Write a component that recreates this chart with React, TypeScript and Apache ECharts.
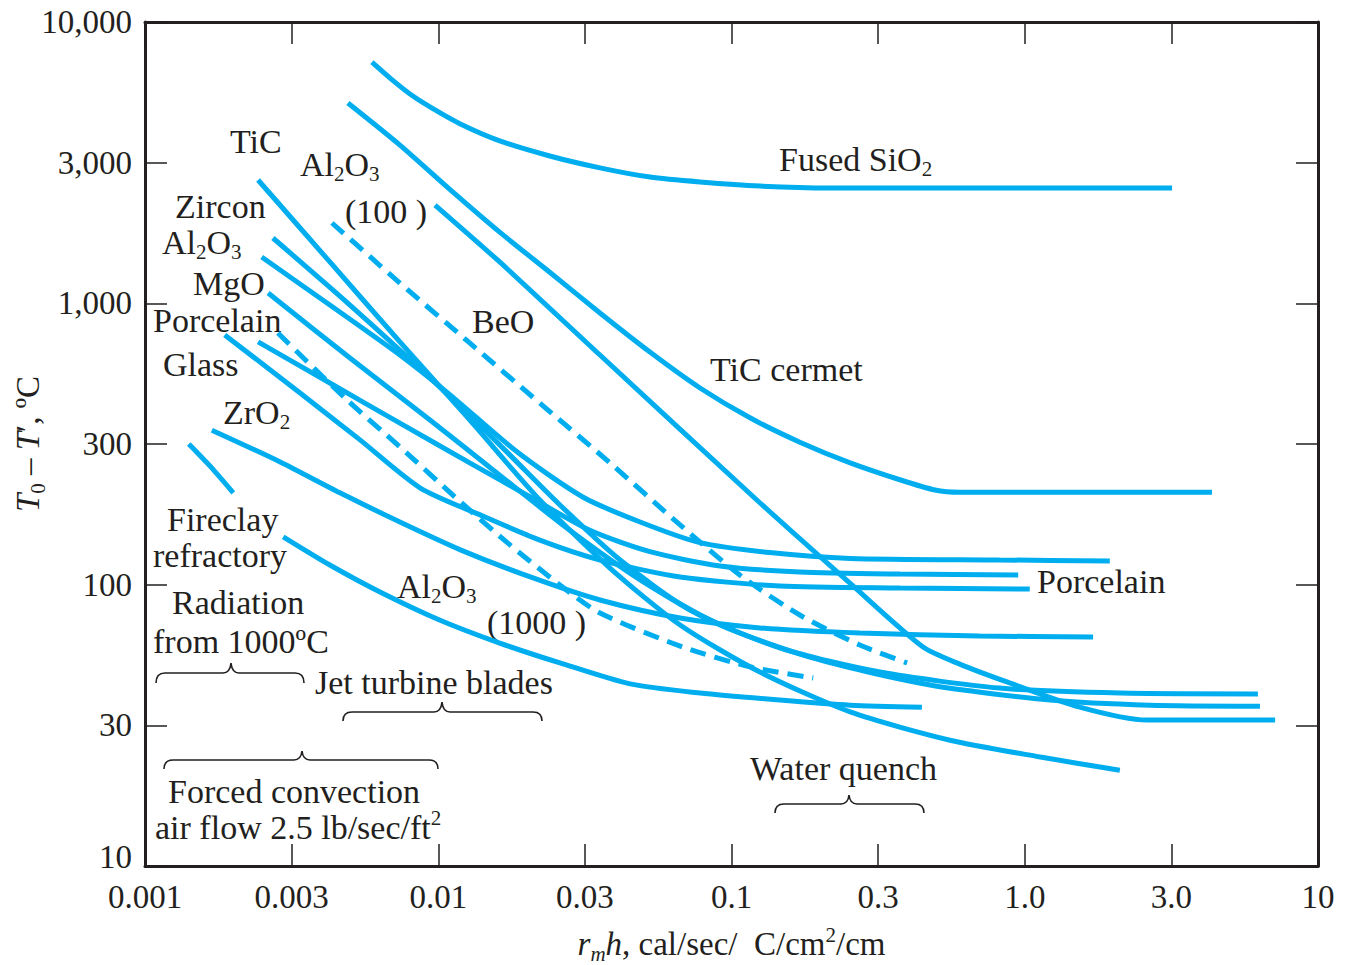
import React, { useEffect, useRef } from 'react';
import * as echarts from 'echarts';

// ---- tick labels (axes are in log10 space, ticks every half decade) ----
const xTickLabels = ['0.001', '0.003', '0.01', '0.03', '0.1', '0.3', '1.0', '3.0', '10'];
const yTickLabels = ['10', '30', '100', '300', '1,000', '3,000', '10,000'];

// ---- curves: [r_m h, T0 - T'] ----
const fusedSiO2 = [[0.00594, 7200], [0.00685, 6320], [0.00801, 5550], [0.00937, 4990], [0.0119, 4340], [0.0162, 3780], [0.024, 3340], [0.0356, 3030], [0.0527, 2810], [0.0781, 2700], [0.125, 2610], [0.217, 2570], [3.18, 2570]];
const ticCermet = [[0.00492, 5150], [0.0074, 3650], [0.011, 2530], [0.0162, 1790], [0.024, 1290], [0.0356, 924], [0.0527, 671], [0.0781, 500], [0.116, 391], [0.171, 321], [0.254, 271], [0.375, 236], [0.494, 217], [0.6, 213], [4.35, 213]];
const al2o3_100 = [[0.00975, 2236], [0.0162, 1403], [0.0356, 655], [0.122, 200], [0.254, 101], [0.45, 60], [0.6, 52.2], [0.87, 45.1], [1.54, 36.7], [2.61, 33], [7.14, 33]];
const beo = [[0.00434, 1930], [0.0074, 1181], [0.0128, 723], [0.0222, 442], [0.0385, 271], [0.0668, 163], [0.107, 108], [0.171, 78], [0.274, 61], [0.397, 52.7]];
const al2o3_1000 = [[0.00284, 784], [0.00489, 453], [0.0074, 309], [0.0119, 197], [0.0172, 141], [0.026, 99.7], [0.0356, 79.3], [0.0683, 60], [0.116, 51], [0.19, 46.6]];
const tic = [[0.00243, 2744], [0.00427, 1403], [0.0074, 729], [0.0128, 385], [0.0222, 200], [0.0385, 114.6], [0.0668, 71.9], [0.125, 48.9], [0.254, 35.3], [0.556, 28], [1.13, 24.4], [2.11, 21.9]];
const zircon = [[0.00273, 1707], [0.005, 986], [0.00937, 543], [0.0162, 314], [0.026, 192], [0.0417, 122.4], [0.0722, 81.3], [0.146, 59.6], [0.321, 48.9], [0.82, 42.9], [2.11, 41.2], [6.24, 40.9]];
const mgo = [[0.00263, 1088], [0.005, 639], [0.00937, 385], [0.0162, 245], [0.0281, 156], [0.0488, 104], [0.0914, 71.9], [0.2, 54], [0.475, 44], [1.22, 38.9], [2.67, 37.3], [6.34, 37]];
const al2o3 = [[0.0025, 1461], [0.00427, 986], [0.0074, 655], [0.011, 472], [0.0186, 296], [0.0311, 205], [0.0488, 167], [0.0781, 141], [0.135, 130], [0.254, 124], [0.82, 122.4], [1.95, 121.4]];
const glass = [[0.00243, 729], [0.00427, 521], [0.0074, 375], [0.0128, 271], [0.0206, 205], [0.0329, 156], [0.0527, 131], [0.0914, 116.5], [0.171, 110.9], [0.375, 109.1], [0.95, 108.2]];
const porcelain = [[0.00187, 772], [0.00338, 480], [0.00541, 327], [0.00866, 221], [0.0139, 177], [0.0222, 144], [0.0356, 122.4], [0.0668, 106.5], [0.146, 98.9], [0.375, 97.3], [1.04, 96.5]];
const zro2 = [[0.00169, 354], [0.00289, 273], [0.00462, 212], [0.0074, 167], [0.0119, 133], [0.0206, 106.5], [0.0356, 88.2], [0.0668, 76.1], [0.125, 70.2], [0.274, 67.3], [0.7, 65.7], [1.71, 65.2]];
const fireclayShort = [[0.00141, 316], [0.0015, 296], [0.0017, 258], [0.002, 212]];
const fireclay = [[0.00296, 148], [0.00427, 117.5], [0.00633, 94.2], [0.0101, 74.9], [0.0162, 62], [0.026, 52.7], [0.0451, 44.4], [0.0781, 41.2], [0.146, 38.9], [0.254, 37.3], [0.446, 36.7]];

const solidCurves = [fusedSiO2, ticCermet, al2o3_100, tic, zircon, mgo, al2o3, glass, porcelain, zro2, fireclayShort, fireclay];
const dashedCurves = [beo, al2o3_1000];

const INK = '#231f20';
const CYAN = '#00AEEF';
const FONT = '"Liberation Serif", "Times New Roman", serif';

// rich styles for axis names / tick labels (label model)
const RICH = {
  p: { fontFamily: FONT, fontSize: 21, lineHeight: 21, verticalAlign: 'top', color: INK },
  i: { fontFamily: FONT, fontSize: 33, lineHeight: 40, fontStyle: 'italic', color: INK },
  is: { fontFamily: FONT, fontSize: 21, lineHeight: 21, verticalAlign: 'bottom', fontStyle: 'italic', color: INK },
  ys: { fontFamily: FONT, fontSize: 21, lineHeight: 21, verticalAlign: 'bottom', color: INK },
  lo: { fontFamily: FONT, fontSize: 33, color: INK, padding: [0, 0, 18, 0] },
};

// rich styles for graphic annotation texts: subscript / superscript shifted by padding
const GRICH = {
  s: { fontFamily: FONT, fontSize: 21, fill: INK, lineHeight: 12, padding: [20, 0, 0, 0] },
  p: { fontFamily: FONT, fontSize: 21, fill: INK, lineHeight: 12, padding: [0, 0, 18, 0] },
};

// annotation texts (left edge x, vertical middle y, in pixels)
const annotations = [
  { t: 'TiC', x: 230, y: 141 },
  { t: 'Al{s|2}O{s|3}', x: 300, y: 164 },
  { t: '(100 )', x: 345, y: 211 },
  { t: 'Zircon', x: 175, y: 206 },
  { t: 'Al{s|2}O{s|3}', x: 162, y: 242 },
  { t: 'MgO', x: 193, y: 283 },
  { t: 'Porcelain', x: 153, y: 320 },
  { t: 'Glass', x: 163, y: 364 },
  { t: 'ZrO{s|2}', x: 223, y: 412 },
  { t: 'BeO', x: 472, y: 321 },
  { t: 'TiC cermet', x: 710, y: 369 },
  { t: 'Fused SiO{s|2}', x: 779, y: 159 },
  { t: 'Porcelain', x: 1037, y: 581 },
  { t: 'Fireclay', x: 167, y: 519 },
  { t: 'refractory', x: 153, y: 555 },
  { t: 'Radiation', x: 172, y: 602 },
  { t: 'from 1000ºC', x: 153, y: 641 },
  { t: 'Al{s|2}O{s|3}', x: 397, y: 586 },
  { t: '(1000 )', x: 487, y: 622 },
  { t: 'Jet turbine blades', x: 315, y: 682 },
  { t: 'Water quench', x: 750, y: 768 },
  { t: 'Forced convection', x: 168, y: 791 },
  { t: 'air flow 2.5 lb/sec/ft{p|2}', x: 155, y: 827 },
];

// curly braces: [x0, x1, xm, peakY, horizY, endY]
const braces = [
  [156, 304, 231, 663, 673, 683],
  [343, 542, 442, 702, 712, 721],
  [164, 438, 302, 751, 760, 769],
  [775, 924, 849, 795, 804, 813],
];

function braceD(b: number[]) {
  const [x0, x1, xm, yp, yh, ye] = b;
  return `M${x0} ${ye} Q${x0} ${yh} ${x0 + 9} ${yh} L${xm - 8} ${yh} Q${xm - 1} ${yh} ${xm} ${yp} Q${xm + 1} ${yh} ${xm + 8} ${yh} L${x1 - 9} ${yh} Q${x1} ${yh} ${x1} ${ye}`;
}

const toLog = (pts: number[][]) => pts.map(([x, y]) => [Math.log10(x), Math.log10(y)]);

function lineSeries(pts: number[][], dashed: boolean) {
  return {
    type: 'line',
    data: toLog(pts),
    showSymbol: false,
    symbol: 'none',
    smooth: 0.25,
    silent: true,
    lineStyle: { color: CYAN, width: 5, type: dashed ? [16, 9] : 'solid', cap: 'butt' },
  };
}

const axisLineStyle = { show: true, onZero: false, lineStyle: { color: INK, width: 3 } };
const tickStyle = { show: true, inside: true, length: 22, lineStyle: { color: INK, width: 1.5 } };

export default function App() {
  const ref = useRef<HTMLDivElement>(null);
  useEffect(() => {
    if (!ref.current) return;
    braces.forEach((b, i) => {
      echarts.graphic.registerShape('brace' + i, echarts.graphic.extendPath(braceD(b), {}) as any);
    });
    const chart = echarts.init(ref.current, null, { renderer: 'svg' });
    const option: any = {
      animation: false,
      backgroundColor: '#fff',
      grid: { left: 145, right: 36, top: 22, bottom: 99, containLabel: false, outerBoundsMode: 'none' },
      xAxis: [
        {
          type: 'value', position: 'bottom', min: -3, max: 1, interval: 0.5,
          axisLine: axisLineStyle, axisTick: tickStyle, splitLine: { show: false },
          axisLabel: {
            margin: 14, fontFamily: FONT, fontSize: 33, color: INK,
            formatter: (v: number) => xTickLabels[Math.round((v + 3) * 2)] ?? '',
          },
          name: '{i|r}{is|m}{i|h}, cal/sec/  C/cm{p|2}/cm',
          nameLocation: 'middle', nameGap: 58, nameMoveOverlap: false,
          nameTextStyle: { fontFamily: FONT, fontSize: 33, color: INK, lineHeight: 40, rich: RICH },
        },
        {
          type: 'value', position: 'top', min: -3, max: 1, interval: 0.5,
          axisLine: axisLineStyle, axisTick: tickStyle, splitLine: { show: false },
          axisLabel: { show: false },
        },
      ],
      yAxis: [
        {
          type: 'value', position: 'left', min: 1, max: 4, interval: 0.5,
          axisLine: axisLineStyle, axisTick: tickStyle, splitLine: { show: false },
          axisLabel: {
            margin: 13, fontFamily: FONT, fontSize: 33, color: INK,
            formatter: (v: number) => {
              const i = Math.round((v - 1) * 2);
              const s = yTickLabels[i] ?? '';
              return i === 0 ? '{lo|' + s + '}' : s;
            },
            rich: RICH,
          },
          name: '{i|T}{ys|0} – {i|T}′, ºC',
          nameLocation: 'middle', nameGap: 97, nameMoveOverlap: false,
          nameTextStyle: { fontFamily: FONT, fontSize: 33, color: INK, lineHeight: 40, rich: RICH },
        },
        {
          type: 'value', position: 'right', min: 1, max: 4, interval: 0.5,
          axisLine: axisLineStyle, axisTick: tickStyle, splitLine: { show: false },
          axisLabel: { show: false },
        },
      ],
      series: [
        ...solidCurves.map((c) => lineSeries(c, false)),
        ...dashedCurves.map((c) => lineSeries(c, true)),
      ],
      graphic: [
        ...annotations.map((a) => ({
          type: 'text', x: a.x, y: a.y, silent: true,
          style: {
            legacy: false,
            text: a.t, fontFamily: FONT, fontSize: 34, fill: INK,
            lineHeight: 34, align: 'left', verticalAlign: 'middle',
            rich: GRICH,
          },
        })),
        ...braces.map((_, i) => ({
          type: 'brace' + i, x: 0, y: 0, silent: true,
          style: { fill: 'none', stroke: INK, lineWidth: 1.6 },
        })),
      ],
    };
    chart.setOption(option);
    return () => chart.dispose();
  }, []);
  return (
    <div
      ref={ref}
      style={{ position: 'fixed', left: 0, top: 0, width: 1354, height: 965, background: '#fff' }}
    />
  );
}
